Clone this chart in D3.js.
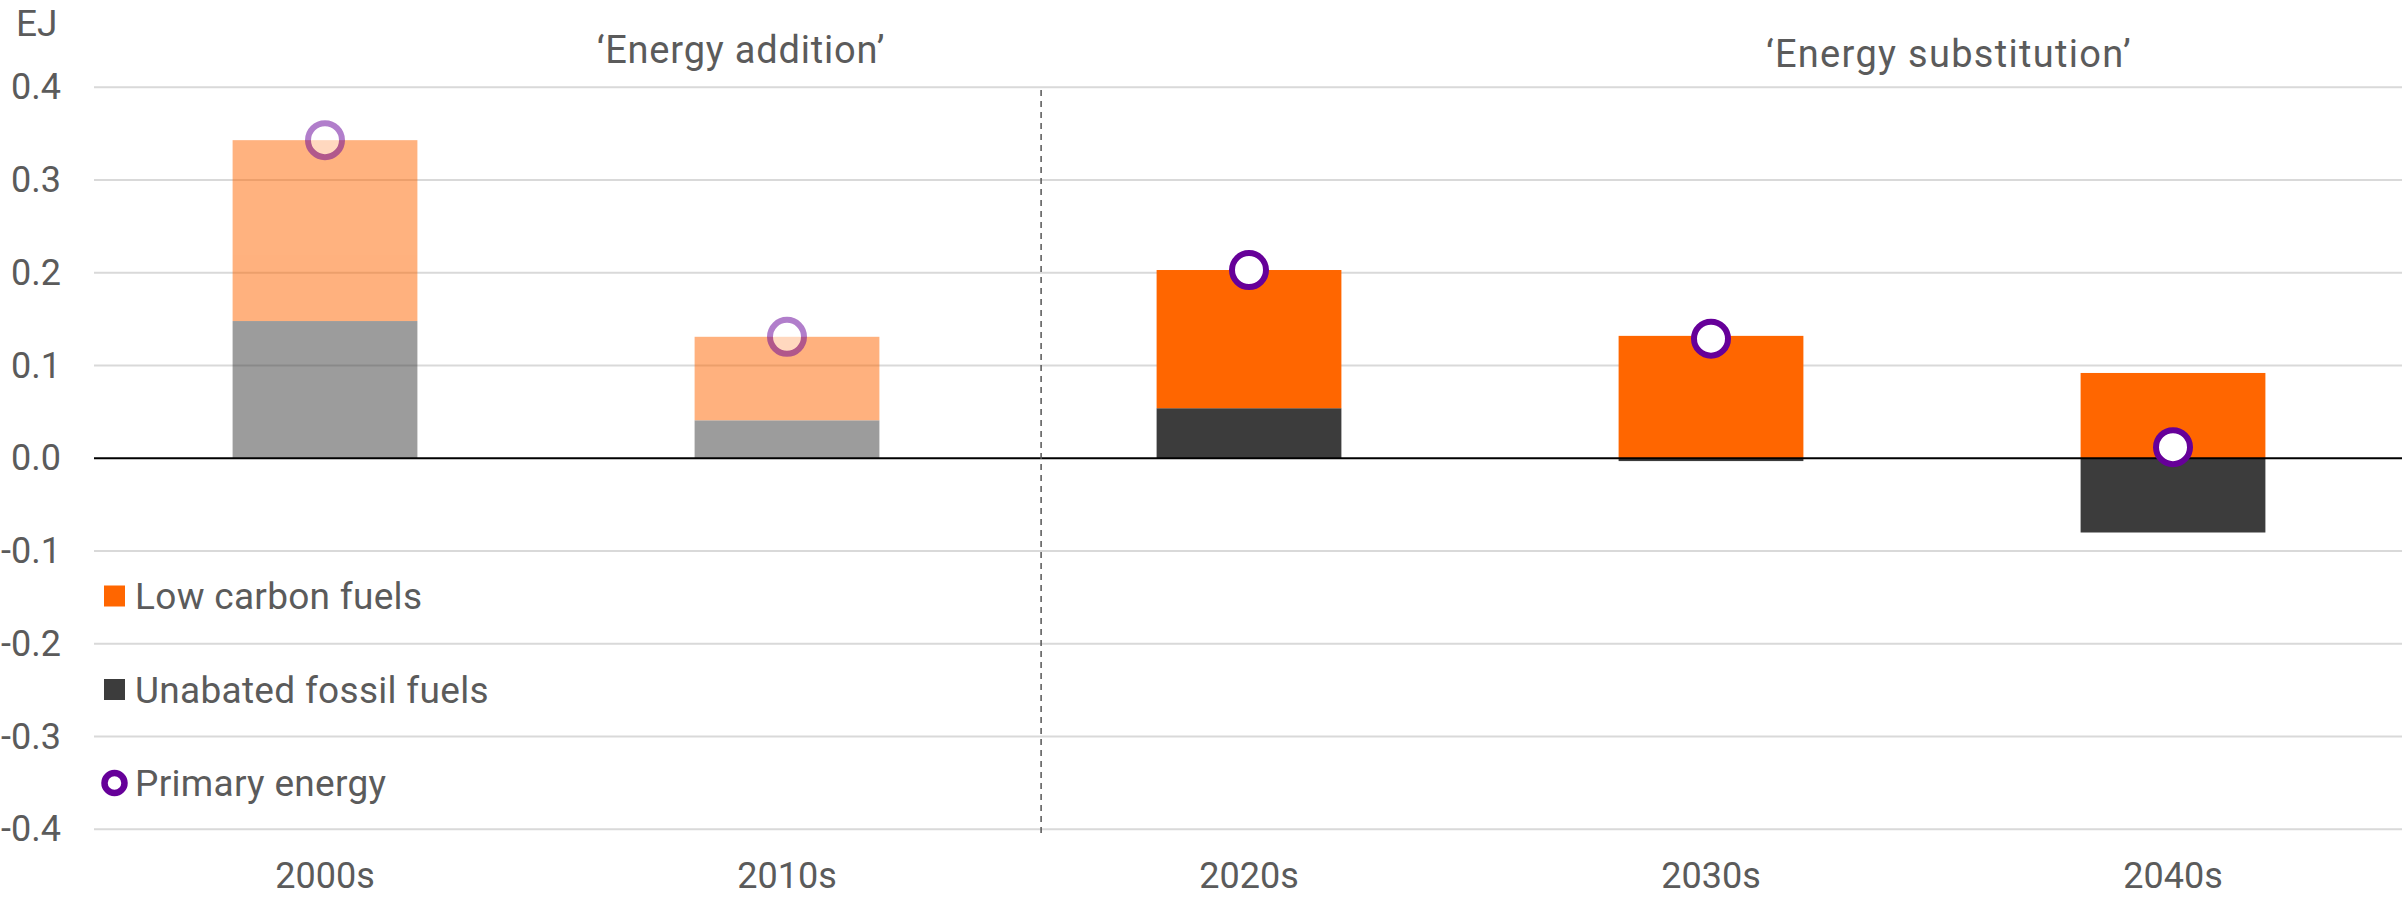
<!DOCTYPE html>
<html>
<head>
<meta charset="utf-8">
<script src="https://cdn.jsdelivr.net/npm/d3@7"></script>
<style>
  html, body { margin: 0; padding: 0; background: #ffffff; }
  svg { display: block; font-family: Roboto, "Liberation Sans", Arial, sans-serif; }
</style>
</head>
<body>
<svg id="chart" width="2402" height="899"></svg>
<script>
// ---- data ----
const categories = ["2000s", "2010s", "2020s", "2030s", "2040s"];
const lowCarbon = [0.195, 0.090, 0.149, 0.132, 0.092];
const fossil = [0.148, 0.041, 0.054, -0.003, -0.080];
const primary = [0.343, 0.131, 0.203, 0.129, 0.012];
const additionEra = ["2000s", "2010s"];
const yTicks = [-0.4, -0.3, -0.2, -0.1, 0.0, 0.1, 0.2, 0.3, 0.4];
const legendLabels = ["Low carbon fuels", "Unabated fossil fuels", "Primary energy"];
const sectionLabels = ["\u2018Energy addition\u2019", "\u2018Energy substitution\u2019"];
const unitLabel = "EJ";

// ---- styles ----
const W = 2402, H = 899;
const C_ORANGE = "#ff6600", C_DARK = "#3c3c3c", C_PURPLE = "#660099";
const TEXT = "#5b5b5b";
const FS = 36;

const svg = d3.select("#chart");
const x = d3.scaleBand().domain(categories).range([94, 2404]).paddingInner(0.6).paddingOuter(0.3);
const y = d3.scaleLinear().domain([-0.4, 0.4]).range([829.3, 87.3]);

// gridlines
svg.append("g").selectAll("line").data(yTicks.filter(d => d !== 0)).join("line")
  .attr("x1", 94).attr("x2", W)
  .attr("y1", d => y(d)).attr("y2", d => y(d))
  .attr("stroke", "#d9d9d9").attr("stroke-width", 2);

// y tick labels
svg.append("g").selectAll("text").data(yTicks).join("text")
  .attr("x", 61).attr("y", d => y(d))
  .attr("text-anchor", "end").attr("dominant-baseline", "central")
  .attr("font-size", FS).attr("fill", TEXT)
  .text(d => d.toFixed(1));

// unit
svg.append("text").attr("x", 16).attr("y", 36)
  .attr("font-size", 37).attr("fill", TEXT).text(unitLabel);

// bars
const rows = categories.map((c, i) => ({ c, low: lowCarbon[i], fos: fossil[i], prim: primary[i], faded: additionEra.includes(c) }));
const gBars = svg.append("g");
rows.forEach(r => {
  const g = gBars.append("g").attr("opacity", r.faded ? 0.5 : 1);
  const f0 = 0, f1 = r.fos;
  g.append("rect")
    .attr("x", x(r.c)).attr("width", x.bandwidth())
    .attr("y", y(Math.max(f0, f1))).attr("height", Math.abs(y(f0) - y(f1)))
    .attr("fill", C_DARK);
  const base = r.fos > 0 ? r.fos : 0;
  const l1 = base + r.low;
  g.append("rect")
    .attr("x", x(r.c)).attr("width", x.bandwidth())
    .attr("y", y(l1)).attr("height", y(base) - y(l1))
    .attr("fill", C_ORANGE);
});

// zero line
svg.append("line").attr("x1", 94).attr("x2", W)
  .attr("y1", y(0)).attr("y2", y(0))
  .attr("stroke", "#000").attr("stroke-width", 2);

// primary energy markers
svg.append("g").selectAll("circle").data(rows).join("circle")
  .attr("cx", d => x(d.c) + x.bandwidth() / 2)
  .attr("cy", d => y(d.prim))
  .attr("r", 17)
  .attr("fill", "#fff")
  .attr("stroke", C_PURPLE).attr("stroke-width", 6)
  .attr("opacity", d => d.faded ? 0.5 : 1);

// divider (dashed)
const step = x.step();
const divX = x("2020s") - x.paddingInner() * step / 2 + 0.05 * step;
svg.append("line").attr("x1", divX).attr("x2", divX)
  .attr("y1", 90).attr("y2", 833)
  .attr("stroke", "#555").attr("stroke-width", 1.5).attr("stroke-dasharray", "6,5");

// section labels
svg.append("text").attr("x", x("2010s") + x.bandwidth() / 2 - 46).attr("y", 63)
  .attr("text-anchor", "middle").attr("font-size", 38).attr("letter-spacing", 0.8)
  .attr("fill", TEXT).text(sectionLabels[0]);
svg.append("text").attr("x", x("2030s") + x.bandwidth() / 2 + 238).attr("y", 67)
  .attr("text-anchor", "middle").attr("font-size", 38).attr("letter-spacing", 1.3)
  .attr("fill", TEXT).text(sectionLabels[1]);

// x labels
svg.append("g").selectAll("text").data(categories).join("text")
  .attr("x", d => x(d) + x.bandwidth() / 2).attr("y", 888)
  .attr("text-anchor", "middle").attr("font-size", FS).attr("fill", TEXT)
  .text(d => d);

// legend
const legCenters = [596, 689.5, 783];
const lg = svg.append("g");
lg.append("rect").attr("x", 104).attr("y", legCenters[0] - 10.5).attr("width", 21).attr("height", 21).attr("fill", C_ORANGE);
lg.append("rect").attr("x", 104).attr("y", legCenters[1] - 10.5).attr("width", 21).attr("height", 21).attr("fill", C_DARK);
lg.append("circle").attr("cx", 114.5).attr("cy", legCenters[2]).attr("r", 10)
  .attr("fill", "#fff").attr("stroke", C_PURPLE).attr("stroke-width", 6.5);
lg.selectAll("text").data(legendLabels).join("text")
  .attr("x", 135).attr("y", (d, i) => legCenters[i] + 13)
  .attr("font-size", 37).attr("letter-spacing", 0.3).attr("fill", TEXT).text(d => d);
</script>
</body>
</html>
